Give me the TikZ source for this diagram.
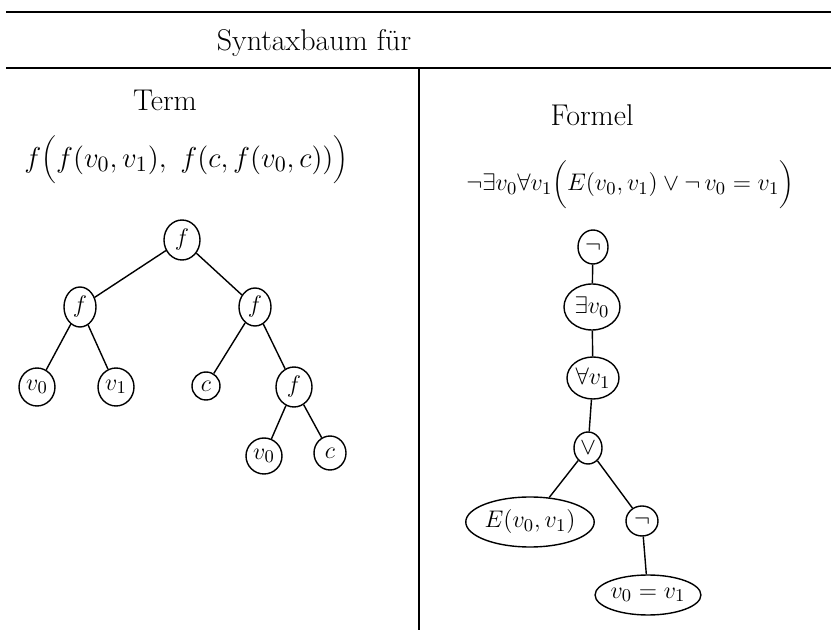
\documentclass[tikz,border=0pt]{standalone}
\usetikzlibrary{shapes.geometric}
\begin{document}
\begin{tikzpicture}[x=0.5pt,y=-0.5pt,
  el/.style 2 args={ellipse, draw, line width=0.7pt, minimum width=#1*0.5pt, minimum height=#2*0.5pt, inner sep=0pt, font=\fontsize{13}{15}\selectfont},
  edge/.style={line width=0.7pt},
  frame/.style={line width=1pt},
  lbl/.style={inner sep=0pt, font=\fontsize{15}{18}\selectfont}]
\useasboundingbox (0,0) rectangle (831,630);
% frame
\coordinate (tl) at (6,12);
\coordinate (tr) at (831,12);
\coordinate (ml) at (6,68);
\coordinate (mr) at (831,68);
\coordinate (vt) at (419,68);
\coordinate (vb) at (419,630);
\draw[frame] (tl) -- (tr);
\draw[frame] (ml) -- (mr);
\draw[frame] (vt) -- (vb);
\node[lbl] (title) at (314,43) {Syntaxbaum für};
\node[lbl] (term) at (165,100) {Term};
\node[lbl] (formel) at (592,115) {Formel};
\node[lbl, anchor=west] (tf) at (24,160) {$f\biggl(f(v_0,v_1),\ f(c,f(v_0,c))\biggr)$};
\node[lbl, anchor=west, font=\fontsize{12.8}{15}\selectfont] (ff) at (466,185) {$\neg\exists v_0\forall v_1\biggl(E(v_0,v_1)\vee\neg\, v_0=v_1\biggr)$};
% left tree
\node[el={36}{40}] (r) at (182,240) {$f$};
\node[el={32}{40}] (a) at (80,307) {$f$};
\node[el={32}{38}] (b) at (255,307) {$f$};
\node[el={36}{38}] (a1) at (37,387) {$v_0$};
\node[el={36}{38}] (a2) at (116,387) {$v_1$};
\node[el={28}{28}] (b1) at (206,386) {$c$};
\node[el={36}{40}] (b2) at (294,387) {$f$};
\node[el={36}{36}] (c1) at (264,456) {$v_0$};
\node[el={32}{34}] (c2) at (330,453) {$c$};
\draw[edge] (r) -- (a);
\draw[edge] (r) -- (b);
\draw[edge] (a) -- (a1);
\draw[edge] (a) -- (a2);
\draw[edge] (b) -- (b1);
\draw[edge] (b) -- (b2);
\draw[edge] (b2) -- (c1);
\draw[edge] (b2) -- (c2);
% right tree
\node[el={30}{34}] (n1) at (593,247) {$\neg$};
\node[el={56}{46}] (n2) at (592,307) {$\exists v_0$};
\node[el={52}{42}] (n3) at (593,378) {$\forall v_1$};
\node[el={28}{32}] (n4) at (588,448) {$\vee$};
\node[el={88}{50}] (n5) at (530,522) {$E(v_0,v_1)$};
\node[el={32}{30}] (n6) at (642,521) {$\neg$};
\node[el={82}{40}] (n7) at (648,595) {$v_0=v_1$};
\draw[edge] (n1) -- (n2);
\draw[edge] (n2) -- (n3);
\draw[edge] (n3) -- (n4);
\draw[edge] (n4) -- (n5);
\draw[edge] (n4) -- (n6);
\draw[edge] (n6) -- (n7);
\end{tikzpicture}
\end{document}
